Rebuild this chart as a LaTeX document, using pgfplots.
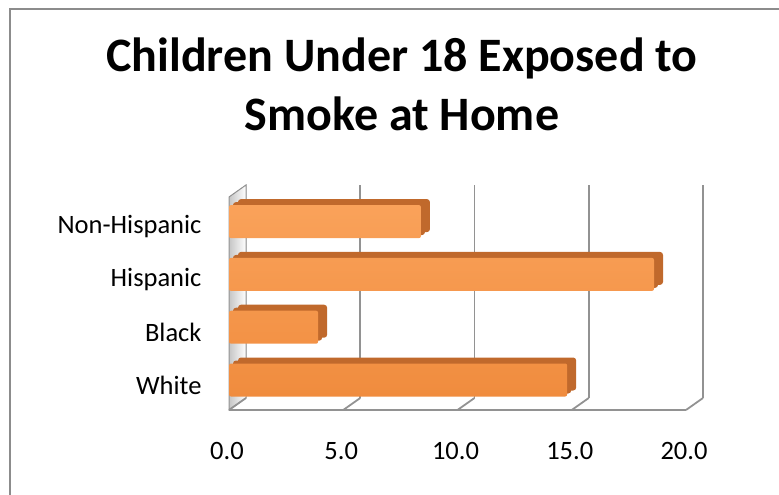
\documentclass[border=0pt]{standalone}
\usepackage{pgfplots}
\pgfplotsset{compat=1.18}
\usepackage{fontspec}
\setmainfont{Carlito}
\definecolor{barlight}{HTML}{FAA25A}
\definecolor{bardark}{HTML}{F08C3E}
\definecolor{barside}{HTML}{C0692C}
\definecolor{gridgray}{HTML}{929292}
\definecolor{framegray}{HTML}{8C8C8C}
\begin{document}
\begin{tikzpicture}[x=1pt,y=1pt]
\useasboundingbox (0,0) rectangle (779,495);
\begin{scope}
\clip (0,0) rectangle (779,495);
\draw[framegray, line width=2pt] (10,486) rectangle (800,-10);
\end{scope}
\node[font=\fontsize{48}{56}\selectfont\bfseries, anchor=base, inner sep=0pt] at (402,423.3) {Children Under 18 Exposed to};
\node[font=\fontsize{48}{56}\selectfont\bfseries, anchor=base, inner sep=0pt] at (402,364) {Smoke at Home};
\begin{axis}[
  at={(229pt,85pt)}, anchor=south west,
  scale only axis, width=457pt, height=213pt,
  xmin=0, xmax=20, ymin=-0.568, ymax=3.466,
  clip=false,
  axis line style={draw=none},
  major tick length=0pt,
  xtick={0,5,10,15,20},
  ytick={0,1,2,3},
  yticklabels={White,Black,Hispanic,Non-Hispanic},
  /pgf/number format/assume math mode=true,
  xticklabel style={/pgf/number format/.cd, fixed, fixed zerofill, precision=1, /tikz/.cd, anchor=base, yshift=-50pt, xshift=-2pt},
  yticklabel style={anchor=east, xshift=-24pt, yshift=-5pt},
  ticklabel style={font=\fontsize{26.5}{30}\selectfont},
]
% left wall
\fill[left color=gray!45, right color=white, draw=gridgray, line width=1pt]
  (axis cs:0,-0.568) -- (axis cs:0,3.466) -- ([shift={(17pt,12pt)}]axis cs:0,3.466) -- ([shift={(17pt,12pt)}]axis cs:0,-0.568) -- cycle;
\pgfplotsinvokeforeach{5,10,15,20}{
  \draw[gridgray, line width=1.8pt] ([shift={(17pt,12pt)}]axis cs:#1,-0.568) -- ([shift={(17pt,12pt)}]axis cs:#1,3.466);
}
\pgfplotsinvokeforeach{0,5,10,15,20}{
  \draw[gridgray, line width=1.8pt] (axis cs:#1,-0.568) -- ([shift={(17pt,12pt)}]axis cs:#1,-0.568);
}
\draw[gridgray, line width=1.2pt] (axis cs:0,-0.568) -- (axis cs:20,-0.568);
\addplot[xbar, bar width=33pt, fill=barside, draw=none, xshift=9pt, yshift=6pt, rounded corners=3pt]
  coordinates {(14.8,0) (3.9,1) (18.6,2) (8.4,3)};
\addplot[xbar, bar width=33pt, fill=barside, draw=none, xshift=4pt, yshift=3pt, rounded corners=3pt]
  coordinates {(14.8,0) (3.9,1) (18.6,2) (8.4,3)};
\addplot[xbar, bar width=33pt, draw=none, top color=barlight, bottom color=bardark, rounded corners=2pt]
  coordinates {(14.8,0) (3.9,1) (18.6,2) (8.4,3)};
\end{axis}
\end{tikzpicture}
\end{document}
